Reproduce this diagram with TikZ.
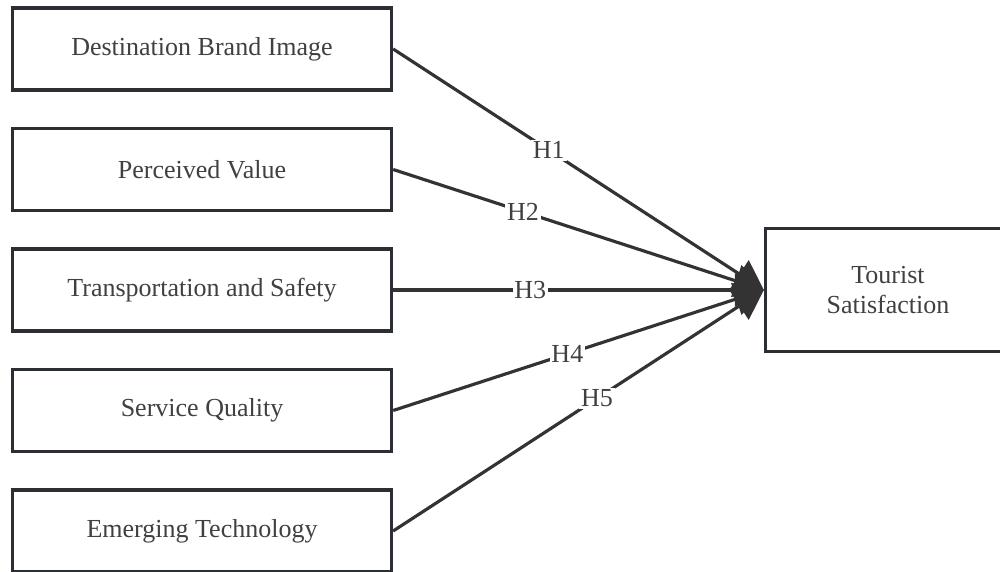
\documentclass[tikz,border=0pt]{standalone}
\usepackage{fontspec}
\setmainfont{Liberation Serif}
\usetikzlibrary{arrows.meta, positioning}
\definecolor{boxline}{HTML}{2B2F33}
\definecolor{edgeline}{HTML}{333333}
\definecolor{hyptext}{HTML}{404040}
\newcommand\labelfont{\fontsize{14.8pt}{17.6pt}\selectfont}

\begin{document}
\begin{tikzpicture}[node distance=2.41cm, >={Triangle[length=0.58cm, width=0.66cm]},
    box/.style={rectangle, draw=boxline, line width=1.9pt, minimum width=7.58cm, minimum height=1.64cm, align=center, font=\labelfont, text=hyptext},
    link/.style={draw=edgeline, line width=1.8pt, ->},
    hyp/.style={fill=white, inner sep=1pt, font=\labelfont, text=hyptext}]
  \useasboundingbox (0,0) rectangle (20,-11.44);
  \node[box] (T) at (4.04,-5.8) {Transportation and Safety};
  \node[box, above of=T] (P) {Perceived Value};
  \node[box, above of=P] (D) {Destination Brand Image};
  \node[box, below of=T] (S) {Service Quality};
  \node[box, below of=S] (E) {Emerging Technology};
  \node[box, right of=T, xshift=11.31cm, minimum width=4.9cm, minimum height=2.46cm] (TS) {Tourist\\Satisfaction};
  \draw[link] (D.east) -- node[hyp, pos=0.42] {H1} (TS.west);
  \draw[link] (P.east) -- node[hyp, pos=0.35] {H2} (TS.west);
  \draw[link] (T.east) -- node[hyp, pos=0.37] {H3} (TS.west);
  \draw[link] (S.east) -- node[hyp, pos=0.47] {H4} (TS.west);
  \draw[link] (E.east) -- node[hyp, pos=0.55] {H5} (TS.west);
\end{tikzpicture}
\end{document}
